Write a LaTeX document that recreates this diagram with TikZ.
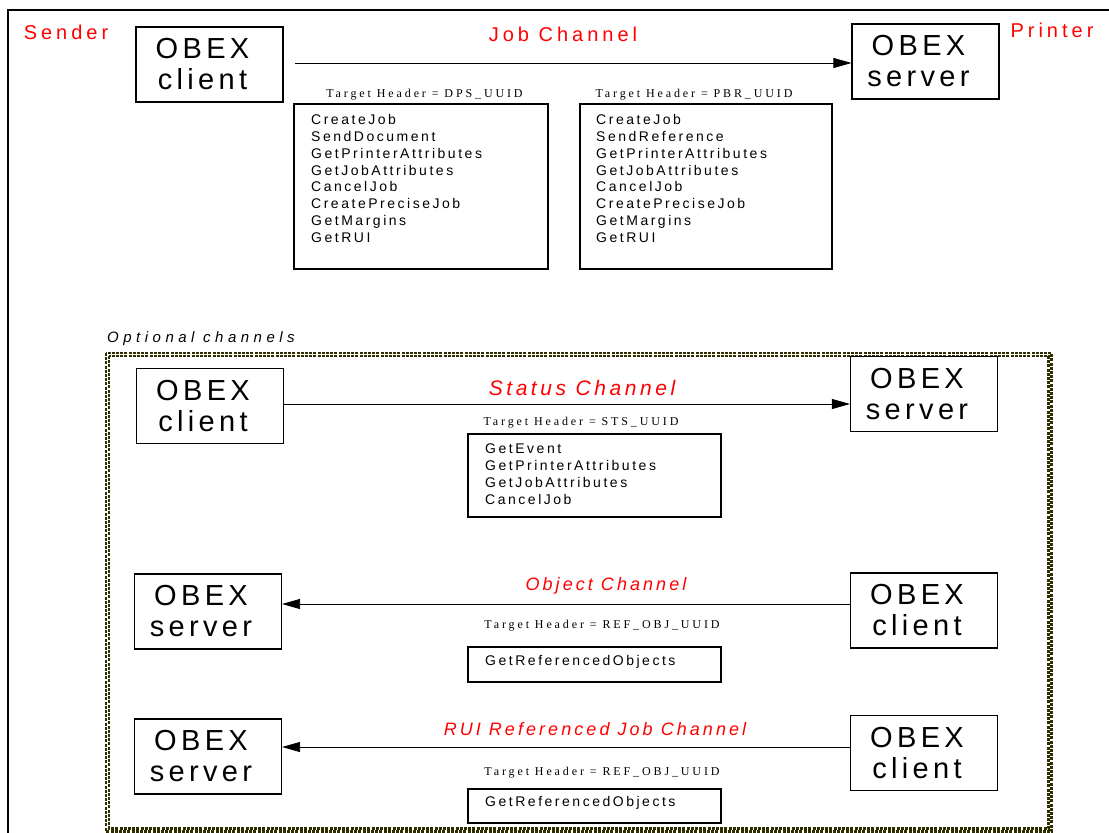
\documentclass[tikz,border=0pt]{standalone}
\usepackage{fontspec}
\setmainfont{Liberation Sans}
\newfontfamily\boxfont[LetterSpace=15]{Liberation Sans}
\newfontfamily\labfont[LetterSpace=20]{Liberation Sans}
\newfontfamily\ilabfont[LetterSpace=17]{Liberation Sans}
\newfontfamily\listfont[LetterSpace=18]{Liberation Sans}
\newfontfamily\hdrfont[LetterSpace=24]{Liberation Serif}
\newfontfamily\optfont[LetterSpace=30]{Liberation Sans}
\usetikzlibrary{arrows.meta}
\definecolor{olv}{RGB}{45,45,0}
\newcommand{\obtxt}[1]{OBEX\hspace*{14pt}\\#1\hspace*{14pt}}
\begin{document}
\begin{tikzpicture}[x=1pt,y=-1pt,
  obex/.style={draw, line width=1.1pt, minimum width=147pt, minimum height=75pt, inner sep=0pt, align=center, font=\boxfont\fontsize{29}{31}\selectfont},
  lab/.style={text=red, inner sep=0pt, font=\labfont\fontsize{20}{22}\selectfont},
  ilab/.style={text=red, inner sep=0pt, font=\ilabfont\itshape\fontsize{#1}{22}\selectfont},
  hdr/.style={inner sep=0pt, font=\hdrfont\fontsize{12}{13}\selectfont},
  listbox/.style={draw, line width=1.1pt, inner sep=0pt},
  listtxt/.style={inner sep=0pt, align=left, font=\listfont\fontsize{14}{16.9}\selectfont},
  arr/.style={-{Triangle[length=18pt,width=10pt]}, line width=0.8pt},
  dotfr/.style={draw=olv, line width=2.6pt, dash pattern=on 3pt off 1.2pt}
]
\useasboundingbox (0,0) rectangle (1109,833);
% outer frame
\draw[line width=2.5pt] (8,833) -- (8,10) -- (1109,10);
% optional channels frame
\draw[dotfr] (106,353) rectangle (1051.5,831.5);
\draw[dotfr] (109,356) rectangle (1048.5,828.5);

% top labels
\node[lab] (sender) at (66,32) {Sender};
\node[lab] (printer) at (1052,30) {Printer};
\node[lab] (jobch) at (563,34) {Job Channel};

% top boxes
\node[obex] (c1) at (209.5,64.5) {\obtxt{client}};
\node[obex] (s1) at (925.5,61.5) {\obtxt{server}};
\coordinate (j0) at (295,63);
\draw[arr] (j0) -- (s1.west |- j0);

\node[hdr] (h1) at (424.5,95) {Target Header = DPS\_UUID};
\node[hdr] (h2) at (694,95) {Target Header = PBR\_UUID};
\node[listbox, minimum width=254pt, minimum height=165pt] (b1) at (421,186.5) {};
\node[listbox, minimum width=252pt, minimum height=165pt] (b2) at (706,186.5) {};
\node[listtxt, anchor=north west] (t1) at (311,114) {CreateJob\\SendDocument\\GetPrinterAttributes\\GetJobAttributes\\CancelJob\\CreatePreciseJob\\GetMargins\\GetRUI};
\node[listtxt, anchor=north west] (t2) at (596,114) {CreateJob\\SendReference\\GetPrinterAttributes\\GetJobAttributes\\CancelJob\\CreatePreciseJob\\GetMargins\\GetRUI};

% optional label
\node[inner sep=0pt, anchor=west, font=\optfont\itshape\fontsize{15}{17}\selectfont] (opt) at (107,339) {Optional channels};

% status channel
\node[obex] (c2) at (210,406) {\obtxt{client}};
\node[obex] (s2) at (924,394) {\obtxt{server}};
\coordinate (st0) at (283,404);
\draw[arr] (st0) -- (s2.west |- st0);
\node[ilab=21] (stch) at (582,388) {Status Channel};
\node[hdr] (h3) at (581,423) {Target Header = STS\_UUID};
\node[listbox, minimum width=253pt, minimum height=83pt] (b3) at (594.5,475.5) {};
\node[listtxt, anchor=north west] (t3) at (485,444) {GetEvent\\GetPrinterAttributes\\GetJobAttributes\\CancelJob};

% object channel
\node[obex] (s3) at (208,611.5) {\obtxt{server}};
\node[obex] (c3) at (924,610.5) {\obtxt{client}};
\coordinate (ob0) at (851,604);
\draw[arr] (ob0) -- (s3.east |- ob0);
\node[ilab=18] (obch) at (606,586) {Object Channel};
\node[hdr] (h4) at (602,626) {Target Header = REF\_OBJ\_UUID};
\node[listbox, minimum width=253pt, minimum height=35pt] (b4) at (594.5,664.5) {};
\node[listtxt, anchor=west] (t4) at (485,662) {GetReferencedObjects};

% RUI referenced job channel
\node[obex] (s4) at (208,756.5) {\obtxt{server}};
\node[obex] (c4) at (924,753) {\obtxt{client}};
\coordinate (ru0) at (851,747);
\draw[arr] (ru0) -- (s4.east |- ru0);
\node[ilab=18] (ruch) at (595,729) {RUI Referenced Job Channel};
\node[hdr] (h5) at (602,773) {Target Header = REF\_OBJ\_UUID};
\node[listbox, minimum width=253pt, minimum height=34pt] (b5) at (594.5,806) {};
\node[listtxt, anchor=west] (t5) at (485,803) {GetReferencedObjects};
\end{tikzpicture}
\end{document}
